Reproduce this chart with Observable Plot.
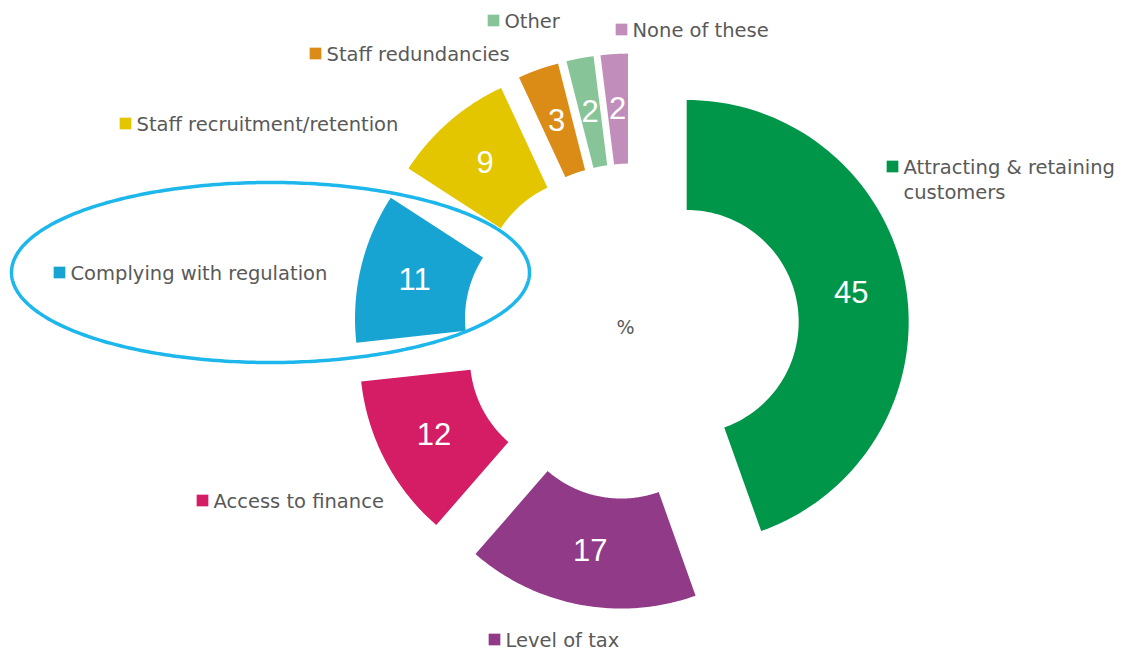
<!DOCTYPE html>
<html>
<head>
<meta charset="utf-8">
<script src="https://cdn.jsdelivr.net/npm/d3@7"></script>
<script src="https://cdn.jsdelivr.net/npm/@observablehq/plot@0.6"></script>
<style>
  html, body { margin: 0; padding: 0; background: #ffffff; }
  #chart svg { display: block; }
</style>
</head>
<body>
<div id="chart"></div>
<script>
// ---- data ----
const categories = [
  "Attracting & retaining customers",
  "Level of tax",
  "Access to finance",
  "Complying with regulation",
  "Staff recruitment/retention",
  "Staff redundancies",
  "Other",
  "None of these"
];
const values = [45, 17, 12, 11, 9, 3, 2, 2];
const labelLines = [
  ["Attracting & retaining", "customers"],
  ["Level of tax"],
  ["Access to finance"],
  ["Complying with regulation"],
  ["Staff recruitment/retention"],
  ["Staff redundancies"],
  ["Other"],
  ["None of these"]
];
const centerLabel = "%";

// ---- styles / layout ----
const colors = ["#00964A", "#913A87", "#D41D65", "#17A4D2", "#E3C600", "#DA8C17", "#87C598", "#C18DBA"];
const W = 1128, H = 651;
const CX = 631, CY = 331, R_OUT = 222, R_IN = 112, EXPLODE = 56;
// legend-style label anchors (square marker centre) in pixels
const labelAnchor = [[892, 166], [494, 639], [202, 500], [59, 272], [125, 123], [315, 53], [493, 20], [621, 29]];
const LABEL_FONT = 19.5, LINE_PX = 25;
const ellipse = {cx: 270, cy: 272, rx: 259, ry: 90};

// ---- geometry from values ----
const total = d3.sum(values);
let acc = 0;
const slices = values.map((v, i) => {
  const a0 = acc / total * 2 * Math.PI;
  acc += v;
  const a1 = acc / total * 2 * Math.PI;
  const mid = (a0 + a1) / 2;
  const ox = CX + EXPLODE * Math.sin(mid);
  const oy = CY - EXPLODE * Math.cos(mid);
  return {cat: categories[i], value: v, a0, a1, mid, ox, oy};
});

const polyPts = [];
for (const s of slices) {
  const N = 90;
  for (let k = 0; k <= N; k++) {
    const a = s.a0 + (s.a1 - s.a0) * k / N;
    polyPts.push({cat: s.cat, x: s.ox + R_OUT * Math.sin(a), y: s.oy - R_OUT * Math.cos(a)});
  }
  for (let k = N; k >= 0; k--) {
    const a = s.a0 + (s.a1 - s.a0) * k / N;
    polyPts.push({cat: s.cat, x: s.ox + R_IN * Math.sin(a), y: s.oy - R_IN * Math.cos(a)});
  }
}

const valueLabels = slices.map(s => ({
  text: String(s.value),
  x: s.ox + (R_OUT + R_IN) / 2 * Math.sin(s.mid),
  y: s.oy - (R_OUT + R_IN) / 2 * Math.cos(s.mid)
}));

const markers = categories.map((c, i) => ({cat: c, x: labelAnchor[i][0], y: labelAnchor[i][1]}));
const texts = categories.map((c, i) => ({
  cat: c,
  text: labelLines[i].join("\n"),
  x: labelAnchor[i][0] + 11,
  y: labelAnchor[i][1] - 1 + (labelLines[i].length - 1) * LINE_PX / 2
}));

const ellPts = d3.range(0, 361).map(t => {
  const a = t / 360 * 2 * Math.PI;
  return {x: ellipse.cx + ellipse.rx * Math.cos(a), y: ellipse.cy + ellipse.ry * Math.sin(a)};
});

const chart = Plot.plot({
  width: W,
  height: H,
  margin: 0,
  style: {background: "#ffffff"},
  x: {domain: [0, W], range: [0, W], axis: null},
  y: {domain: [0, H], range: [0, H], axis: null},
  color: {domain: categories, range: colors},
  marks: [
    Plot.line(polyPts, {x: "x", y: "y", z: "cat", fill: "cat", stroke: "none", curve: "linear"}),
    Plot.line(ellPts, {x: "x", y: "y", stroke: "#1DB7EB", strokeWidth: 3.5, fill: "none", curve: "linear"}),
    Plot.text(valueLabels, {x: "x", y: "y", text: "text", fill: "#ffffff", fontSize: 31,
      fontFamily: "Liberation Sans, Arial, sans-serif", textAnchor: "middle", lineAnchor: "middle"}),
    Plot.dot(markers, {x: "x", y: "y", fill: "cat", symbol: "square", r: 6.6, stroke: "none"}),
    Plot.text(texts, {x: "x", y: "y", text: "text", fill: "#595959", fontSize: LABEL_FONT,
      fontFamily: "DejaVu Sans, sans-serif", textAnchor: "start", lineAnchor: "middle",
      lineHeight: LINE_PX / LABEL_FONT}),
    Plot.text([centerLabel], {x: () => CX - 6, y: () => CY - 4, text: d => d, fill: "#595959",
      fontSize: 19, fontFamily: "DejaVu Sans, sans-serif", textAnchor: "middle", lineAnchor: "middle"})
  ]
});
document.getElementById("chart").appendChild(chart);
</script>
</body>
</html>
